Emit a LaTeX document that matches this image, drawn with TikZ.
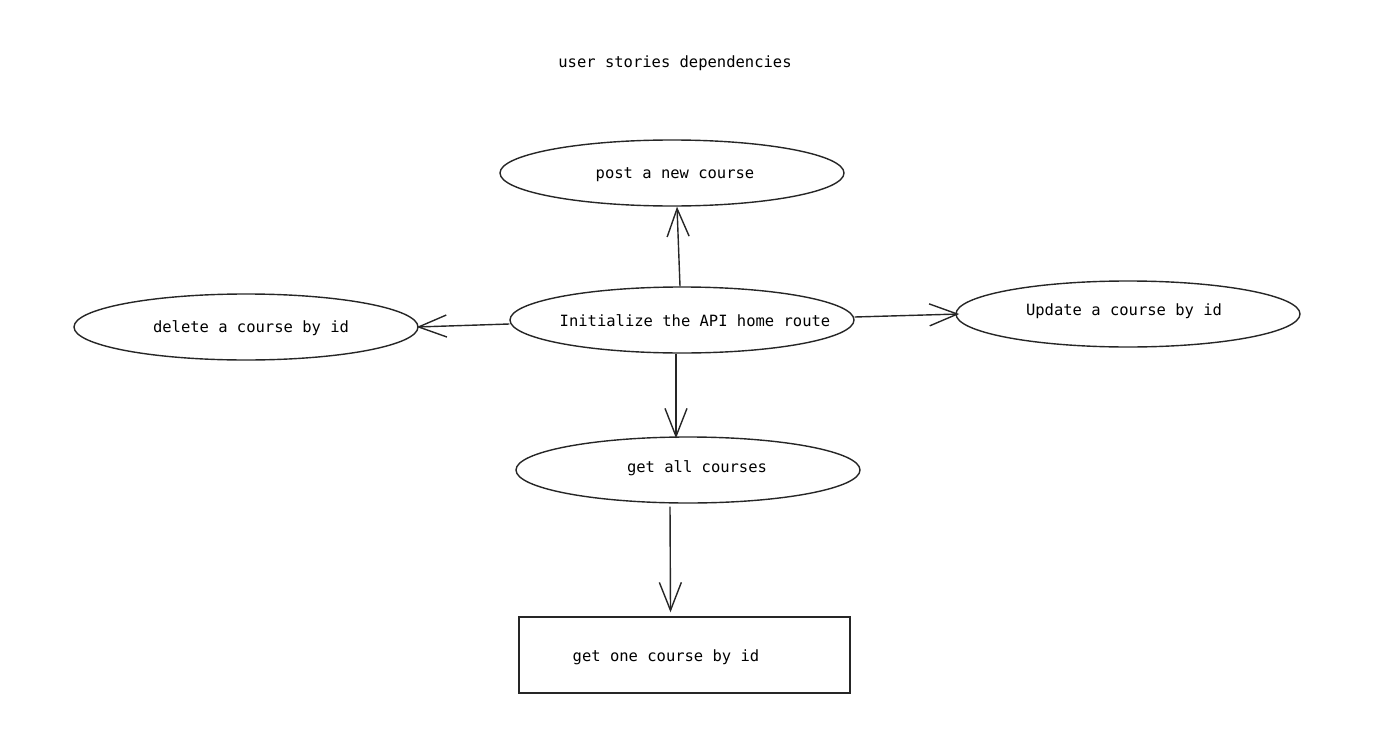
\documentclass[tikz,border=0pt]{standalone}
\usepackage{fontspec}
\setmonofont{DejaVu Sans Mono}
\usetikzlibrary{shapes.geometric,arrows.meta}
\tikzset{
  lbl/.style={font=\ttfamily\fontsize{15.5pt}{18pt}\selectfont, inner sep=0pt, text=black},
  oval/.style={draw=black!85, line width=1.4pt, ellipse, minimum width=344pt, minimum height=66pt, inner sep=0pt},
  boxshape/.style={draw=black!85, line width=1.4pt, rectangle, minimum width=331pt, minimum height=76pt, inner sep=0pt},
  arr/.style={draw=black!85, line width=1.4pt, -{Straight Barb[length=28pt,width=22pt,line width=1.4pt]}}
}
\begin{document}
\begin{tikzpicture}[x=1pt,y=-1pt]
\useasboundingbox (0,0) rectangle (1396,741);
\node[lbl] (title) at (675,63.5) {user stories dependencies};
\node[oval] (post) at (672,173) {};
\node[lbl] (postT) at (675,174.5) {post a new course};
\node[oval] (init) at (682,320) {};
\node[lbl] (initT) at (695,320.5) {Initialize the API home route};
\node[oval] (del) at (246,327) {};
\node[lbl] (delT) at (251,328.5) {delete a course by id};
\node[oval] (upd) at (1128,314) {};
\node[lbl] (updT) at (1124,311.5) {Update a course by id};
\node[oval] (all) at (688,470) {};
\node[lbl] (allT) at (697,468.5) {get all courses};
\node[boxshape] (one) at (684.5,655) {};
\node[lbl] (oneT) at (666,657.5) {get one course by id};
\draw[arr] ([xshift=-2pt]init.north) -- ([xshift=5pt]post.south);
\draw[arr] ([yshift=-4pt]init.west) -- ([xshift=-2pt]del.east);
\draw[arr] ([yshift=3pt]init.east) -- ([xshift=4pt]upd.west);
\draw[arr] ([xshift=-6pt]init.south) -- ([xshift=-12pt,yshift=-2pt]all.north);
\draw[arr] ([xshift=-18pt,yshift=-3pt]all.south) -- ([xshift=-14pt,yshift=4pt]one.north);
\end{tikzpicture}
\end{document}
